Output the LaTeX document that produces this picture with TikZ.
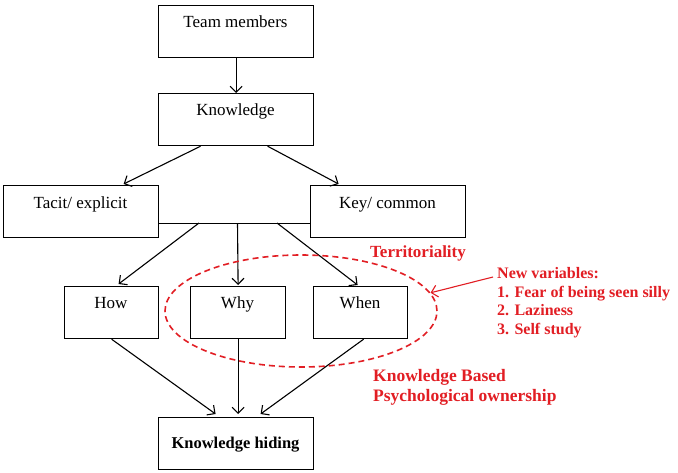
\documentclass[tikz,border=0pt]{standalone}
\usepackage{fontspec}
\setmainfont{Liberation Serif}
\usetikzlibrary{arrows.meta,shapes.geometric}
\definecolor{redc}{RGB}{226,30,36}
\begin{document}
\begin{tikzpicture}[x=1pt,y=-1pt,
  box/.style={draw, line width=1.2pt, minimum width=#1, minimum height=52pt, anchor=north west, inner sep=0pt},
  lbl/.style={anchor=base, inner sep=0pt, font=\fontsize{17}{20}\selectfont},
  arr/.style={line width=1.1pt, -{Straight Barb[length=6pt,width=12pt,line width=1.1pt]}},
  redtxt/.style={text=redc, inner sep=0pt, align=left, font=\fontsize{16}{18.7}\selectfont\bfseries},
  redarr/.style={draw=redc, line width=1.1pt, -{Straight Barb[length=6pt,width=12pt,line width=1.1pt]}}
]
\useasboundingbox (0,0) rectangle (678,472);
\fill[white] (0,0) rectangle (678,472);

% boxes
\node[box=155] (tm) at (158,5) {};
\node[box=155] (kn) at (158,93) {};
\node[box=155] (te) at (3,185) {};
\node[box=155] (kc) at (310,185) {};
\node[box=94] (how) at (64,286) {};
\node[box=95] (why) at (190,286) {};
\node[box=94] (when) at (313,286) {};
\node[box=155] (kh) at (158,417) {};

% labels
\node[lbl] (tmt) at (235.5,27.5) {Team members};
\node[lbl] (knt) at (235.5,115.5) {Knowledge};
\node[lbl] (tet) at (80.5,208.5) {Tacit/ explicit};
\node[lbl] (kct) at (387.5,208.5) {Key/ common};
\node[lbl] (howt) at (111,308.5) {How};
\node[lbl] (whyt) at (237.5,308.5) {Why};
\node[lbl] (whent) at (360,308.5) {When};
\node[lbl, font=\fontsize{16.5}{19}\selectfont\bfseries] (kht) at (235.5,448.5) {Knowledge hiding};

% connectors
\draw[arr] (tm.south) -- (kn.north);
\draw[arr] ([xshift=-35.5pt]kn.south) -- ([xshift=42.5pt,yshift=1pt]te.north);
\draw[arr] ([xshift=31.5pt]kn.south) -- ([xshift=-49.5pt,yshift=1pt]kc.north);

\coordinate (hl) at (158,223);
\coordinate (hr) at (310,223);
\coordinate (s1) at (199,223);
\coordinate (s2) at (237.5,223);
\coordinate (s3) at (277,223);
\draw[line width=1pt] (hl) -- (hr);
\draw[arr] (s1) -- ([xshift=7pt,yshift=2pt]how.north);
\draw[arr] (s2) -- ([yshift=1pt]why.north);
\draw[arr] (s3) -- ([xshift=-3pt,yshift=1pt]when.north);

\draw[arr] (how.south) -- ([xshift=-20.5pt,yshift=3pt]kh.north);
\draw[arr] (why.south) -- ([yshift=3pt]kh.north -| why.south);
\draw[arr] ([xshift=3pt]when.south) -- ([xshift=24.5pt,yshift=3pt]kh.north);

% red annotations
\node[ellipse, draw=redc, line width=1.6pt, dash pattern=on 6pt off 4pt,
      minimum width=272pt, minimum height=112pt, inner sep=0pt] (terr) at (301,311) {};
\node[redtxt, font=\fontsize{17}{19}\selectfont\bfseries] (terrt) at (418,253) {Territoriality};
\node[redtxt, anchor=north west] (nv) at (497,267)
  {New variables:\\1. Fear of being seen silly\\2. Laziness\\3. Self study};
\coordinate (nvs) at (493,277);
\draw[redarr] (nvs) -- (terr.8);
\node[redtxt, anchor=north west, font=\fontsize{17.5}{20.5}\selectfont\bfseries] (kbp) at (373,369)
  {Knowledge Based\\Psychological ownership};
\end{tikzpicture}
\end{document}
